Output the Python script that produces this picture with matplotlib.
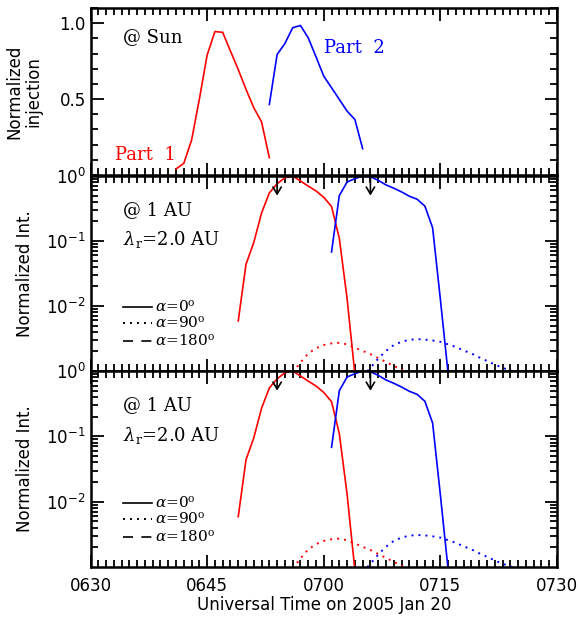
import matplotlib
matplotlib.use('Agg')
import matplotlib.pyplot as plt

plt.rcParams['font.family'] = 'DejaVu Sans'
plt.rcParams['mathtext.fontset'] = 'dejavuserif'

# time axis: minutes after 06:30 UT
xticks = [0, 15, 30, 45, 60]
xticklabels = ['0630', '0645', '0700', '0715', '0730']

# top panel: normalized injection at the Sun
inj_t1 = [11, 12, 13, 14, 15, 16, 17, 18, 19, 20, 21, 22, 23]
inj_part1 = [0.04, 0.077, 0.23, 0.5, 0.79, 0.945, 0.94, 0.816, 0.695, 0.564, 0.443, 0.35, 0.114]
inj_t2 = [23, 24, 25, 26, 27, 28, 29, 30, 31, 32, 33, 34, 35]
inj_part2 = [0.465, 0.794, 0.866, 0.97, 0.985, 0.904, 0.779, 0.651, 0.575, 0.498, 0.421, 0.366, 0.174]

# 1 AU intensities, alpha = 0 (solid)
au_t1 = [19, 20, 21, 22, 23, 24, 25, 26, 27, 28, 29, 30, 31, 32, 33, 34]
au_part1 = [0.0059, 0.044, 0.095, 0.27, 0.55, 0.76, 0.94, 1.0, 0.84, 0.70, 0.59, 0.47, 0.34, 0.11, 0.013, 0.0009]
au_t2 = [31, 32, 33, 34, 35, 36, 37, 38, 39, 40, 41, 42, 43, 44, 45, 46]
au_part2 = [0.068, 0.5, 0.81, 0.91, 1.0, 0.975, 0.86, 0.73, 0.65, 0.57, 0.49, 0.44, 0.345, 0.16, 0.0126, 0.0009]

# 1 AU intensities, alpha = 90 (dotted)
dot_t1 = [26, 27, 28, 29, 30, 31, 32, 33, 34, 35, 36, 37, 38, 39, 40, 41]
dot_part1 = [0.00095, 0.00135, 0.00186, 0.00224, 0.00251, 0.00266, 0.00272, 0.00257,
             0.00229, 0.00204, 0.00182, 0.00158, 0.00138, 0.0012, 0.00105, 0.00089]
dot_t2 = [35, 36, 37, 38, 39, 40, 41, 42, 43, 44, 45, 46, 47, 48, 49, 50, 51, 52, 53, 54, 55]
dot_part2 = [0.00083, 0.00112, 0.00155, 0.00204, 0.00251, 0.00282, 0.00302, 0.00309, 0.00305,
             0.00295, 0.00282, 0.00257, 0.00234, 0.00207, 0.00186, 0.00162, 0.00143, 0.00126,
             0.00112, 0.00102, 0.00093]

# onset markers (arrows)
arrow_times = [24, 36]

red = '#ff0000'
blue = '#0000ff'
serif = 'DejaVu Serif'
dots = (0, (1, 2.6))


def style_axis(ax):
    ax.set_xlim(0, 60)
    ax.set_xticks(xticks)
    ax.set_xticks(range(0, 61), minor=True)
    ax.tick_params(which='both', direction='in', top=True, right=True, width=1.3, labelsize=12)
    ax.tick_params(which='major', length=9)
    ax.tick_params(which='minor', length=5)
    for s in ax.spines.values():
        s.set_linewidth(1.8)


fig = plt.figure(figsize=(5.78, 6.22), dpi=100)
ax1 = fig.add_axes([0.1566, 0.7186, 0.8071, 0.2685])
ax2 = fig.add_axes([0.1566, 0.4035, 0.8071, 0.3135])
ax3 = fig.add_axes([0.1566, 0.0884, 0.8071, 0.3151])

# panel 1
ax1.plot(inj_t1, inj_part1, color=red, lw=1.2)
ax1.plot(inj_t2, inj_part2, color=blue, lw=1.2)
style_axis(ax1)
ax1.set_ylim(0, 1.1)
ax1.set_yticks([0.5, 1.0])
ax1.set_yticklabels(['0.5', '1.0'])
ax1.set_yticks([i / 10 for i in range(0, 12)], minor=True)
ax1.tick_params(labelbottom=False)
ax1.set_ylabel('Normalized\ninjection', fontsize=12, linespacing=1.05)
ax1.yaxis.set_label_coords(-0.103, 0.5)
ax1.text(0.07, 0.826, '@ Sun', transform=ax1.transAxes, family=serif, fontsize=13, va='center')
ax1.text(0.052, 0.12, 'Part  1', transform=ax1.transAxes, family=serif, fontsize=13, va='center', color=red)
ax1.text(0.50, 0.76, 'Part  2', transform=ax1.transAxes, family=serif, fontsize=13, va='center', color=blue)

# panels 2 and 3
for ax in [ax2, ax3]:
    ax.plot(au_t1, au_part1, color=red, lw=1.2)
    ax.plot(au_t2, au_part2, color=blue, lw=1.2)
    ax.plot(dot_t1, dot_part1, color=red, lw=1.4, ls=dots)
    ax.plot(dot_t2, dot_part2, color=blue, lw=1.4, ls=dots)
    ax.set_yscale('log')
    style_axis(ax)
    ax.set_ylim(1e-3, 1.0)
    ax.set_yticks([1e-2, 1e-1, 1.0])
    ax.set_yticklabels([r'$\mathregular{10^{-2}}$', r'$\mathregular{10^{-1}}$', r'$\mathregular{10^{0}}$'])
    ax.yaxis.set_minor_locator(matplotlib.ticker.LogLocator(base=10, subs=range(2, 10)))
    ax.yaxis.set_minor_formatter(matplotlib.ticker.NullFormatter())
    ax.set_ylabel('Normalized Int.', fontsize=12)
    ax.yaxis.set_label_coords(-0.122, 0.5)
    for t in arrow_times:
        ax.annotate('', xy=(t, 0.5), xytext=(t, 1.0),
                    arrowprops=dict(arrowstyle='->,head_length=0.5,head_width=0.3', color='black',
                                    lw=1.2, shrinkA=0, shrinkB=0))
    ax.text(0.07, 0.826, '@ 1 AU', transform=ax.transAxes, family=serif, fontsize=13, va='center')
    ax.text(0.07, 0.672, r'$\lambda_{\rm r}$=2.0 AU', transform=ax.transAxes, family=serif, fontsize=13, va='center')
    # legend for pitch angles
    ax.plot([0.07, 0.132], [0.328, 0.328], transform=ax.transAxes, color='black', lw=1.2, ls='-')
    ax.plot([0.07, 0.132], [0.246, 0.246], transform=ax.transAxes, color='black', lw=1.4, ls=dots)
    ax.plot([0.07, 0.132], [0.154, 0.154], transform=ax.transAxes, color='black', lw=1.2, ls=(0, (6, 5)))
    ax.text(0.138, 0.328, r'$\alpha$=0$^{\rm o}$', transform=ax.transAxes, family=serif, fontsize=11, va='center')
    ax.text(0.138, 0.246, r'$\alpha$=90$^{\rm o}$', transform=ax.transAxes, family=serif, fontsize=11, va='center')
    ax.text(0.138, 0.154, r'$\alpha$=180$^{\rm o}$', transform=ax.transAxes, family=serif, fontsize=11, va='center')

ax2.tick_params(labelbottom=False)
ax3.set_xticklabels(xticklabels)
ax3.tick_params(axis='x', pad=7)
ax3.set_xlabel('Universal Time on 2005 Jan 20', fontsize=12, labelpad=1)

fig.savefig('out.png', dpi=100)
